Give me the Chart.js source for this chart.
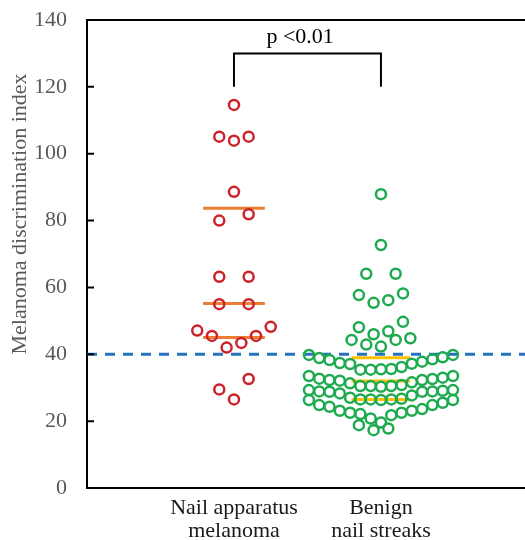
<!DOCTYPE html>
<html>
<head>
<meta charset="utf-8">
<script src="https://cdn.jsdelivr.net/npm/chart.js@4"></script>
<style>
	html, body { margin: 0; padding: 0; background: #ffffff; }
	#wrap { width: 525px; height: 540px; }
</style>
</head>
<body>
<div id="wrap"><canvas id="myScatterChart"></canvas></div>
<script>
"use strict";

// Groups on the x axis (1 = melanoma, 2 = benign)
const categories = [["Nail apparatus", "melanoma"], ["Benign", "nail streaks"]];

// Melanoma discrimination index per lesion, with the sideways spread of the dot plot
const melanomaValues = [114.6, 105.1, 103.9, 105.1, 88.6, 80.0, 81.9, 63.2, 63.2, 55.0, 55.0, 47.1, 45.5, 42.0, 43.4, 45.5, 48.2, 32.6, 29.5, 26.5];
const melanomaJitter = [0, -0.1, 0, 0.1, 0, -0.1, 0.1, -0.1, 0.1, -0.1, 0.1, -0.25, -0.15, -0.05, 0.05, 0.15, 0.25, 0.1, -0.1, 0];

const benignValues = [
	87.9, 72.7, 64.1, 64.1, 57.7, 55.4, 56.2, 58.2, 48.1, 46.0, 46.9, 49.7, 44.3, 42.9, 42.3, 44.3, 44.8,
	39.8, 38.9, 38.3, 37.4, 37.1, 35.4, 35.4, 35.5, 35.6, 36.2, 37.2, 37.8, 38.5, 39.1, 39.8,
	33.5, 32.7, 32.3, 32.1, 31.3, 30.5, 30.5, 30.3, 30.5, 30.8, 31.6, 32.3, 32.6, 33.0, 33.5,
	29.3, 28.9, 28.8, 28.3, 27.0, 26.5, 26.5, 26.3, 26.5, 26.7, 27.7, 28.8, 28.9, 29.1, 29.3,
	26.3, 24.8, 24.3, 23.1, 22.5, 22.1, 20.8, 19.6, 21.8, 22.5, 23.1, 23.6, 24.8, 25.5, 26.3,
	18.8, 17.3, 17.8,
];
const rowJitter = [-0.49, -0.42, -0.35, -0.28, -0.21, -0.14, -0.07, 0, 0.07, 0.14, 0.21, 0.28, 0.35, 0.42, 0.49];
const benignJitter = [
	0, 0, -0.1, 0.1, -0.15, -0.05, 0.05, 0.15, -0.15, -0.05, 0.05, 0.15, -0.2, -0.1, 0, 0.1, 0.2,
	...rowJitter, ...rowJitter, ...rowJitter, ...rowJitter,
	-0.15, -0.05, 0.05,
];

// Quartile lines of each group
const melanomaQuartiles = [83.7, 55.2, 45.0];
const benignQuartiles = [39.0, 32.0, 26.5];

// Cut-off line and significance bracket
const cutoffValue = 40;
const bracketBottom = 120;
const bracketTop = 130;
const pValueText = "p <0.01";

const yTitle = "Melanoma discrimination index";
const yMin = 0;
const yMax = 140;
const yStep = 20;
const xMax = 2.98;

function toPoints(values, jitter, group) {
	return values.map(function (v, i) {
		return { x: group + jitter[i], y: v };
	});
}

function quartileLines(values, group, half, color) {
	return values.map(function (v) {
		return {
			data: [{ x: group - half, y: v }, { x: group + half, y: v }],
			showLine: true,
			borderColor: color,
			borderWidth: 3,
			pointRadius: 0,
			order: 1,
		};
	});
}

// Extra drawing: top frame, inward ticks, y title and p value
const decorations = {
	id: "decorations",
	afterDraw(chart) {
		const { ctx, chartArea, scales } = chart;
		ctx.save();
		ctx.strokeStyle = "#000000";
		ctx.lineWidth = 2;
		ctx.beginPath();
		ctx.moveTo(chartArea.left, chartArea.top);
		ctx.lineTo(chartArea.right, chartArea.top);
		scales.y.ticks.forEach(function (t) {
			const y = scales.y.getPixelForValue(t.value);
			ctx.moveTo(chartArea.left, y);
			ctx.lineTo(chartArea.left + 7, y);
		});
		ctx.stroke();

		ctx.fillStyle = "#000000";
		ctx.font = "22px 'Liberation Serif', 'Times New Roman', serif";
		ctx.textAlign = "center";
		ctx.textBaseline = "alphabetic";
		ctx.fillText(pValueText, scales.x.getPixelForValue(1.45), scales.y.getPixelForValue(bracketTop) - 10);

		ctx.fillStyle = "#595959";
		ctx.translate(20, 214);
		ctx.rotate(-Math.PI / 2);
		ctx.textBaseline = "middle";
		ctx.fillText(yTitle, 0, 0);
		ctx.restore();
	},
};

Chart.defaults.font.family = "'Liberation Serif', 'Times New Roman', serif";

const ctx = document.getElementById("myScatterChart");

new Chart(ctx, {
	type: "scatter",
	data: {
		datasets: [
			{
				data: toPoints(melanomaValues, melanomaJitter, 1),
				borderColor: "#CC2229",
				backgroundColor: "rgba(0, 0, 0, 0)",
				borderWidth: 2.5,
				pointRadius: 5,
				order: 0,
			},
			{
				data: toPoints(benignValues, benignJitter, 2),
				borderColor: "#1EAA4F",
				backgroundColor: "rgba(0, 0, 0, 0)",
				borderWidth: 2.5,
				pointRadius: 5,
				order: 0,
			},
			...quartileLines(melanomaQuartiles, 1, 0.21, "#ED7D31"),
			...quartileLines(benignQuartiles, 2, 0.2, "#FFC000"),
			{
				data: [{ x: 0, y: cutoffValue }, { x: xMax, y: cutoffValue }],
				showLine: true,
				borderColor: "#2472C0",
				borderWidth: 3,
				borderDash: [10, 8],
				pointRadius: 0,
				order: 2,
			},
			{
				data: [{ x: 1, y: bracketBottom }, { x: 1, y: bracketTop }, { x: 2, y: bracketTop }, { x: 2, y: bracketBottom }],
				showLine: true,
				borderColor: "#000000",
				borderWidth: 2,
				pointRadius: 0,
				order: 1,
			},
		],
	},
	options: {
		responsive: true,
		maintainAspectRatio: false,
		animation: false,
		layout: { autoPadding: false, padding: { top: 20, right: 0, bottom: 0, left: 0 } },
		scales: {
			x: {
				type: "linear",
				min: 0,
				max: xMax,
				afterBuildTicks: function (scale) {
					scale.ticks = [{ value: 1 }, { value: 2 }];
				},
				afterFit: function (scale) {
					scale.height = 52;
					scale.paddingLeft = 0;
					scale.paddingRight = 0;
				},
				grid: { display: true, drawOnChartArea: false, drawTicks: false },
				border: { color: "#000000", width: 2 },
				ticks: {
					padding: 9,
					color: "#1A1A1A",
					font: { size: 22, lineHeight: 1.05 },
					maxRotation: 0,
					autoSkip: false,
					callback: function (value) {
						return categories[value - 1];
					},
				},
			},
			y: {
				min: yMin,
				max: yMax,
				afterFit: function (scale) {
					scale.width = 87;
					scale.paddingTop = 0;
					scale.paddingBottom = 0;
				},
				grid: { display: true, drawOnChartArea: false, drawTicks: false },
				border: { color: "#000000", width: 2 },
				ticks: {
					stepSize: yStep,
					padding: 20,
					color: "#595959",
					font: { size: 22 },
				},
			},
		},
		plugins: {
			legend: { display: false },
			tooltip: { enabled: false },
		},
	},
	plugins: [decorations],
});
</script>
</body>
</html>
